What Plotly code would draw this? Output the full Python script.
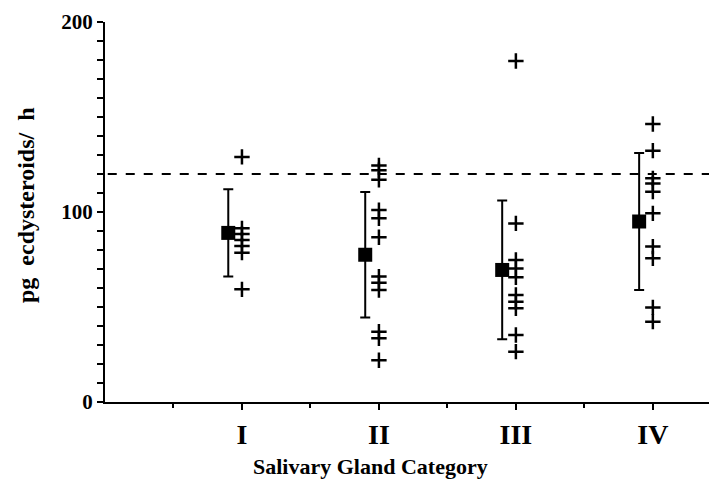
import plotly.graph_objects as go

categories = ["I", "II", "III", "IV"]
cat_pos = [1, 2, 3, 4]
obs_I = [129, 91.4, 88.4, 85.3, 82.1, 78.6, 59.3]
obs_II = [124.5, 122, 117, 101, 96.7, 86.7, 66, 62.8, 58.9, 37, 33.5, 22]
obs_III = [179.5, 94, 74.7, 70.3, 65.6, 56.3, 52.8, 49.3, 35.3, 26.5]
obs_IV = [146.3, 132.3, 117.7, 115, 110.7, 99.3, 81.8, 75.6, 49.8, 42.3]
means = [89, 77.5, 69.5, 95]
sds = [23, 33, 36.5, 36]
threshold = 120
mean_offset = -0.1
y_ticks = list(range(0, 201, 10))
y_labels = [0, 100, 200]
x_minor = [0.5, 1.5, 2.5, 3.5]

FONT = "Liberation Serif"
fig = go.Figure()

all_obs = [obs_I, obs_II, obs_III, obs_IV]
xs, ys = [], []
for p, obs in zip(cat_pos, all_obs):
    xs += [p] * len(obs)
    ys += obs
fig.add_trace(go.Scatter(
    x=xs, y=ys, mode="markers",
    marker=dict(symbol="cross-thin-open", size=11, color="black",
                line=dict(color="black", width=2.5)),
    showlegend=False, hoverinfo="skip"))

fig.add_trace(go.Scatter(
    x=[p + mean_offset for p in cat_pos], y=means, mode="markers",
    marker=dict(symbol="square", size=14, color="black"),
    error_y=dict(type="data", array=sds, visible=True, color="black",
                 thickness=2, width=5),
    showlegend=False, hoverinfo="skip"))

xmax = 4.41
fig.add_shape(type="line", x0=0.02, x1=xmax, y0=threshold, y1=threshold,
              xref="x", yref="y", line=dict(color="black", width=2, dash="dash"))

fig.update_layout(
    width=709, height=483,
    margin=dict(l=105, r=0, t=22, b=81),
    paper_bgcolor="white", plot_bgcolor="white",
    font=dict(family=FONT, color="black"),
    xaxis=dict(range=[0, xmax], tickmode="array", tickvals=cat_pos,
               ticktext=["<b>%s</b>" % c for c in categories],
               showgrid=False, zeroline=False,
               showline=True, linecolor="black", linewidth=2,
               ticks="outside", ticklen=6, tickwidth=2, tickcolor="black",
               tickfont=dict(family=FONT, size=28, color="black"),
               minor=dict(tickmode="array", tickvals=x_minor,
                          ticks="outside", ticklen=4, tickwidth=2, tickcolor="black")),
    yaxis=dict(range=[0, 200], tickmode="array", tickvals=y_ticks,
               ticktext=[("<b>%d</b>" % v if v in y_labels else "") for v in y_ticks],
               showgrid=False, zeroline=False,
               showline=True, linecolor="black", linewidth=2,
               ticks="outside", ticklen=6, tickwidth=2, tickcolor="black",
               tickfont=dict(family=FONT, size=21, color="black")),
)

fig.add_annotation(text="<b>Salivary Gland Category</b>", xref="paper", yref="paper",
                   x=(370 - 105) / 604, y=-(466 - 402) / 380, xanchor="center",
                   yanchor="middle", showarrow=False,
                   font=dict(family=FONT, size=22, color="black"))
fig.add_annotation(text="<b>pg  ecdysteroids/  h</b>", xref="paper", yref="paper",
                   x=-(105 - 26) / 604, y=(402 - 205) / 380, xanchor="center",
                   yanchor="middle", showarrow=False, textangle=-90,
                   font=dict(family=FONT, size=24, color="black"))

fig.write_html("out.html")
